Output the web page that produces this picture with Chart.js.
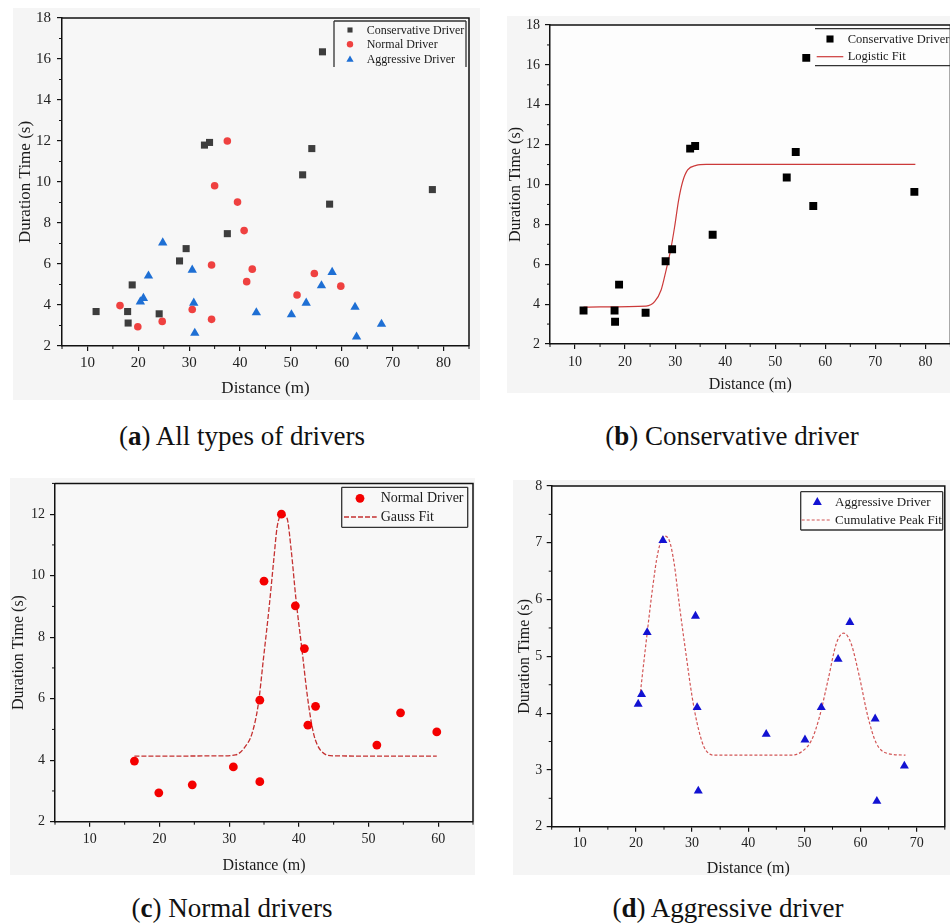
<!DOCTYPE html>
<html>
<head>
<meta charset="utf-8">
<script src="https://cdn.jsdelivr.net/npm/chart.js@4.4.1/dist/chart.umd.min.js"></script>
<style>
  html, body { margin: 0; padding: 0; background: #fff; }
  #page { position: relative; width: 950px; height: 924px; overflow: hidden; font-family: "Liberation Serif", serif; }
  .panel { position: absolute; background: #f5f5f5; }
  canvas { position: absolute; }
  .caption { position: absolute; font-size: 27px; line-height: 30px; color: #111; transform: translateX(-50%); white-space: nowrap; }
</style>
</head>
<body>
<div id="page">
  <div class="panel" style="left:13px;top:8px;width:467px;height:392px"></div>
  <div class="panel" style="left:507px;top:16px;width:443px;height:377px"></div>
  <div class="panel" style="left:10px;top:478px;width:465px;height:397px"></div>
  <div class="panel" style="left:513px;top:480px;width:437px;height:395px"></div>

  <canvas id="chartA" width="480" height="400" style="left:0;top:0"></canvas>
  <canvas id="chartB" width="476" height="400" style="left:480px;top:0"></canvas>
  <canvas id="chartC" width="480" height="410" style="left:0;top:470px"></canvas>
  <canvas id="chartD" width="470" height="410" style="left:480px;top:470px"></canvas>

  <div class="caption" style="left:242px;top:421px">(<b>a</b>) All types of drivers</div>
  <div class="caption" style="left:732px;top:421px">(<b>b</b>) Conservative driver</div>
  <div class="caption" style="left:232px;top:893px">(<b>c</b>) Normal drivers</div>
  <div class="caption" style="left:728px;top:893px">(<b>d</b>) Aggressive driver</div>
</div>
<script>
// measured samples: distance (m) and duration time (s)
const conservativeDistance = [11.7, 17.9, 18.0, 18.8, 24.1, 28.1, 29.4, 33.0, 34.0, 37.5, 52.3, 54.1, 56.2, 57.6, 77.8];
const conservativeTime     = [3.68, 3.68, 3.12, 4.98, 3.57, 6.15, 6.75, 11.8, 11.93, 7.48, 10.35, 11.63, 16.35, 8.92, 9.63];

const normalDistance = [16.4, 19.9, 24.7, 30.6, 34.4, 34.4, 35.0, 37.5, 39.5, 40.8, 41.3, 42.4, 51.2, 54.6, 59.8];
const normalTime     = [3.97, 2.94, 3.2, 3.78, 3.3, 5.95, 9.82, 12.0, 9.02, 7.63, 5.14, 5.75, 4.49, 5.54, 4.92];

const aggressiveDistance = [20.4, 21.0, 22.0, 24.8, 30.6, 30.9, 31.1, 43.2, 50.1, 53.0, 56.0, 58.1, 62.6, 62.9, 67.8];
const aggressiveTime     = [4.16, 4.33, 5.42, 7.04, 5.71, 4.1, 2.63, 3.63, 3.53, 4.1, 4.95, 5.6, 3.9, 2.45, 3.07];

// fitted curves, sampled along their length
const logisticX = [11.7, 15.0, 24.2, 25.9, 27.2, 28.2, 29.1, 29.9, 30.7, 31.5, 32.5, 34.2, 36.2, 78.0];
const logisticY = [3.85, 3.86, 3.9, 4.12, 4.71, 5.71, 6.71, 7.88, 9.22, 10.14, 10.73, 10.96, 11.01, 11.01];

const gaussX = [16.4, 28.7, 30.9, 32.3, 33.3, 34.2, 34.9, 35.7, 36.4, 36.9, 37.6, 38.3, 38.9, 39.6, 40.4, 41.3, 42.1, 43.1, 45.0, 59.8];
const gaussY = [4.13, 4.14, 4.17, 4.44, 4.88, 5.85, 7.26, 8.89, 10.51, 11.6, 11.98, 11.87, 10.84, 9.21, 7.69, 5.96, 4.88, 4.33, 4.14, 4.13];

const peakX = [20.8, 22.0, 23.0, 23.9, 25.0, 25.9, 26.8, 27.7, 28.9, 30.0, 30.9, 32.1, 33.9, 35.6, 45.4, 47.7, 49.5, 51.3, 52.7, 54.2, 55.7, 57.0, 58.3, 59.8, 61.3, 62.8, 64.8, 68.0];
const peakY = [4.37, 5.41, 6.23, 6.82, 7.12, 7.05, 6.64, 5.93, 5.05, 4.29, 3.82, 3.41, 3.26, 3.26, 3.26, 3.26, 3.32, 3.53, 3.94, 4.58, 5.23, 5.41, 5.23, 4.64, 3.94, 3.47, 3.29, 3.26];

const FONT = '"Liberation Serif", "Times New Roman", serif';
const INK = '#111';

const zip = (xs, ys) => xs.map((x, i) => ({ x, y: ys[i] }));
const steps = (from, to, step) => {
  const out = [];
  for (let v = from; v <= to + 1e-9; v += step) out.push(Math.round(v * 1000) / 1000);
  return out;
};

function scatterSet(label, xs, ys, style, color, r) {
  return { label, data: zip(xs, ys), pointStyle: style, pointRadius: r, pointHoverRadius: r,
    backgroundColor: color, borderColor: color, borderWidth: 0, showLine: false };
}
function fitSet(label, xs, ys, color, dash, w) {
  return { label, data: zip(xs, ys), showLine: true, pointRadius: 0, borderColor: color,
    borderWidth: w, borderDash: dash, cubicInterpolationMode: 'monotone', fill: false };
}

function drawMarker(ctx, style, cx, cy, r) {
  if (style === 'rect') {
    const h = r * Math.SQRT1_2;
    ctx.rect(cx - h, cy - h, 2 * h, 2 * h);
  } else if (style === 'triangle') {
    ctx.moveTo(cx, cy - r);
    ctx.lineTo(cx + r * Math.sin(Math.PI * 2 / 3), cy - r * Math.cos(Math.PI * 2 / 3));
    ctx.lineTo(cx + r * Math.sin(Math.PI * 4 / 3), cy - r * Math.cos(Math.PI * 4 / 3));
    ctx.closePath();
  } else {
    ctx.arc(cx, cy, r, 0, Math.PI * 2);
  }
}

// frame, minor ticks and the boxed legend
const decor = {
  id: 'decor',
  beforeDraw(chart, args, o) {
    const { ctx, chartArea: a } = chart;
    ctx.save();
    ctx.fillStyle = o.plotBg;
    ctx.fillRect(a.left, a.top, a.right - a.left, a.bottom - a.top);
    ctx.restore();
  },
  afterDraw(chart, args, o) {
    const { ctx, chartArea: a, scales: { x, y } } = chart;
    ctx.save();
    ctx.strokeStyle = INK;
    ctx.lineWidth = 1.5;
    ctx.beginPath();
    ctx.moveTo(a.left, a.top); ctx.lineTo(a.right, a.top); ctx.lineTo(a.right, a.bottom);
    ctx.stroke();

    ctx.lineWidth = 1;
    ctx.beginPath();
    o.xMinor.forEach(v => { const p = x.getPixelForValue(v); ctx.moveTo(p, a.bottom); ctx.lineTo(p, a.bottom + 3); });
    o.yMinor.forEach(v => { const p = y.getPixelForValue(v); ctx.moveTo(a.left, p); ctx.lineTo(a.left - 3, p); });
    ctx.stroke();

    const lg = o.legend;
    const [x1, y1, x2, y2] = lg.box;
    ctx.strokeStyle = '#333';
    ctx.lineWidth = 1.3;
    ctx.beginPath();
    if (lg.sides.includes('t')) { ctx.moveTo(x1, y1); ctx.lineTo(x2, y1); }
    if (lg.sides.includes('b')) { ctx.moveTo(x1, y2); ctx.lineTo(x2, y2); }
    if (lg.sides.includes('l')) { ctx.moveTo(x1, y1); ctx.lineTo(x1, y2); }
    if (lg.sides.includes('r')) { ctx.moveTo(x2, y1); ctx.lineTo(x2, y2); }
    ctx.stroke();

    ctx.font = lg.size + 'px ' + FONT;
    ctx.textBaseline = 'middle';
    ctx.textAlign = 'left';
    lg.rows.forEach(row => {
      const ds = chart.data.datasets[row.ds];
      if (ds.showLine) {
        ctx.strokeStyle = ds.borderColor;
        ctx.lineWidth = ds.borderWidth;
        ctx.setLineDash(ds.borderDash || []);
        ctx.beginPath(); ctx.moveTo(lg.lineX[0], row.y); ctx.lineTo(lg.lineX[1], row.y); ctx.stroke();
        ctx.setLineDash([]);
      } else {
        ctx.fillStyle = ds.backgroundColor;
        ctx.beginPath();
        drawMarker(ctx, ds.pointStyle, lg.markX, row.y, row.r);
        ctx.fill();
      }
      ctx.fillStyle = '#1a1a1a';
      ctx.fillText(ds.label, lg.textX, row.y + 0.5);
    });
    ctx.restore();
  }
};

function buildChart(id, datasets, g) {
  const xMajor = steps(g.xTicks[0], g.xTicks[1], g.xTicks[2]);
  const yMajor = steps(g.yTicks[0], g.yTicks[1], g.yTicks[2]);
  const xMinor = steps(g.xRange[0], g.xRange[1], g.xTicks[2] / 2).filter(v => !xMajor.includes(v));
  const yMinor = steps(g.yRange[0], g.yRange[1], g.yTicks[2] / 2).filter(v => !yMajor.includes(v));
  const tickFont = { family: FONT, size: g.tickSize };
  const titleFont = { family: FONT, size: g.titleSize };
  const axisCommon = {
    type: 'linear',
    grid: { drawOnChartArea: false, drawTicks: true, tickLength: 5, color: INK, lineWidth: 1.2 },
    border: { display: true, color: INK, width: 1.5 }
  };
  return new Chart(document.getElementById(id), {
    type: 'scatter',
    data: { datasets },
    options: {
      responsive: false,
      animation: false,
      layout: { padding: { left: 0, top: g.top, right: g.right, bottom: 0 } },
      plugins: {
        legend: { display: false },
        tooltip: { enabled: false },
        decor: { plotBg: g.plotBg, xMinor, yMinor, legend: g.legend }
      },
      scales: {
        x: Object.assign({}, axisCommon, {
          min: g.xRange[0], max: g.xRange[1],
          afterBuildTicks: s => { s.ticks = xMajor.map(v => ({ value: v })); },
          afterFit: s => { s.height = g.xH; },
          ticks: { font: tickFont, color: '#222', padding: g.xTickPad, maxRotation: 0, autoSkip: false },
          title: { display: true, text: 'Distance (m)', font: titleFont, color: '#1a1a1a', padding: { top: 0, bottom: g.xTitlePad } }
        }),
        y: Object.assign({}, axisCommon, {
          min: g.yRange[0], max: g.yRange[1],
          afterBuildTicks: s => { s.ticks = yMajor.map(v => ({ value: v })); },
          afterFit: s => { s.width = g.yW; },
          ticks: { font: tickFont, color: '#222', padding: g.yTickPad, autoSkip: false },
          title: { display: true, text: 'Duration Time (s)', font: titleFont, color: '#1a1a1a', padding: { top: g.yTitlePad, bottom: 0 } }
        })
      }
    },
    plugins: [decor]
  });
}

// (a) all three driver groups
buildChart('chartA', [
  scatterSet('Conservative Driver', conservativeDistance, conservativeTime, 'rect', '#3d3d3d', 5),
  scatterSet('Normal Driver', normalDistance, normalTime, 'circle', '#ef4140', 3.8),
  scatterSet('Aggressive Driver', aggressiveDistance, aggressiveTime, 'triangle', '#1e6fd4', 5.4)
], {
  xRange: [5, 85], yRange: [2, 18], xTicks: [10, 80, 10], yTicks: [2, 18, 2],
  top: 18, right: 11, yW: 62, xH: 54, tickSize: 15, titleSize: 17,
  xTickPad: 3, yTickPad: 6, xTitlePad: 1, yTitlePad: 15, plotBg: '#f7f7f7',
  legend: { box: [334, 21, 466, 67], sides: 'tlr', size: 12, markX: 350, textX: 366.7, lineX: [0, 0],
    rows: [{ ds: 0, y: 30, r: 3.6 }, { ds: 1, y: 44.3, r: 3.2 }, { ds: 2, y: 59.7, r: 4.2 }] }
});

// (b) conservative drivers with logistic fit
buildChart('chartB', [
  scatterSet('Conservative Driver', conservativeDistance, conservativeTime, 'rect', '#000', 5.6),
  fitSet('Logistic Fit', logisticX, logisticY, '#cc3a3a', [], 1.2)
], {
  xRange: [5, 85], yRange: [2, 18], xTicks: [10, 80, 10], yTicks: [2, 18, 2],
  top: 25, right: 3.6, yW: 70, xH: 56, tickSize: 14, titleSize: 16,
  xTickPad: 4.6, yTickPad: 5, xTitlePad: 6, yTitlePad: 26, plotBg: '#fdfdfd',
  legend: { box: [335, 28.7, 476, 65.7], sides: 'tb', size: 12.5, markX: 350, textX: 367.7, lineX: [336.7, 363.3],
    rows: [{ ds: 0, y: 39, r: 5 }, { ds: 1, y: 56.7 }] }
});

// (c) normal drivers with Gauss fit
buildChart('chartC', [
  scatterSet('Normal Driver', normalDistance, normalTime, 'circle', '#f40000', 4.4),
  fitSet('Gauss Fit', gaussX, gaussY, '#c43030', [5, 2], 1.3)
], {
  xRange: [5, 65], yRange: [2, 13], xTicks: [10, 60, 10], yTicks: [2, 12, 2],
  top: 13, right: 7, yW: 55, xH: 58.3, tickSize: 14, titleSize: 16,
  xTickPad: 4.2, yTickPad: 5, xTitlePad: 5, yTitlePad: 9, plotBg: '#f8f8f8',
  legend: { box: [341.7, 17.3, 467.7, 57.3], sides: 'tblr', size: 14, markX: 360, textX: 380.7, lineX: [344, 376.7],
    rows: [{ ds: 0, y: 28.3, r: 4.4 }, { ds: 1, y: 47 }] }
});

// (d) aggressive drivers with two-peak fit
buildChart('chartD', [
  scatterSet('Aggressive Driver', aggressiveDistance, aggressiveTime, 'triangle', '#1212d2', 5.2),
  fitSet('Cumulative Peak Fit', peakX, peakY, '#d25555', [3, 2], 1.2)
], {
  xRange: [5, 75], yRange: [2, 8], xTicks: [10, 70, 10], yTicks: [2, 8, 1],
  top: 16, right: 3.3, yW: 71.7, xH: 53.3, tickSize: 14, titleSize: 16,
  xTickPad: 3.2, yTickPad: 4.4, xTitlePad: 2, yTitlePad: 35, plotBg: '#fdfdfd',
  legend: { box: [320.7, 21.7, 462.7, 60], sides: 'tblr', size: 13, markX: 337.3, textX: 355, lineX: [321.7, 351.7],
    rows: [{ ds: 0, y: 32.3, r: 5.2 }, { ds: 1, y: 50 }] }
});
</script>
</body>
</html>
